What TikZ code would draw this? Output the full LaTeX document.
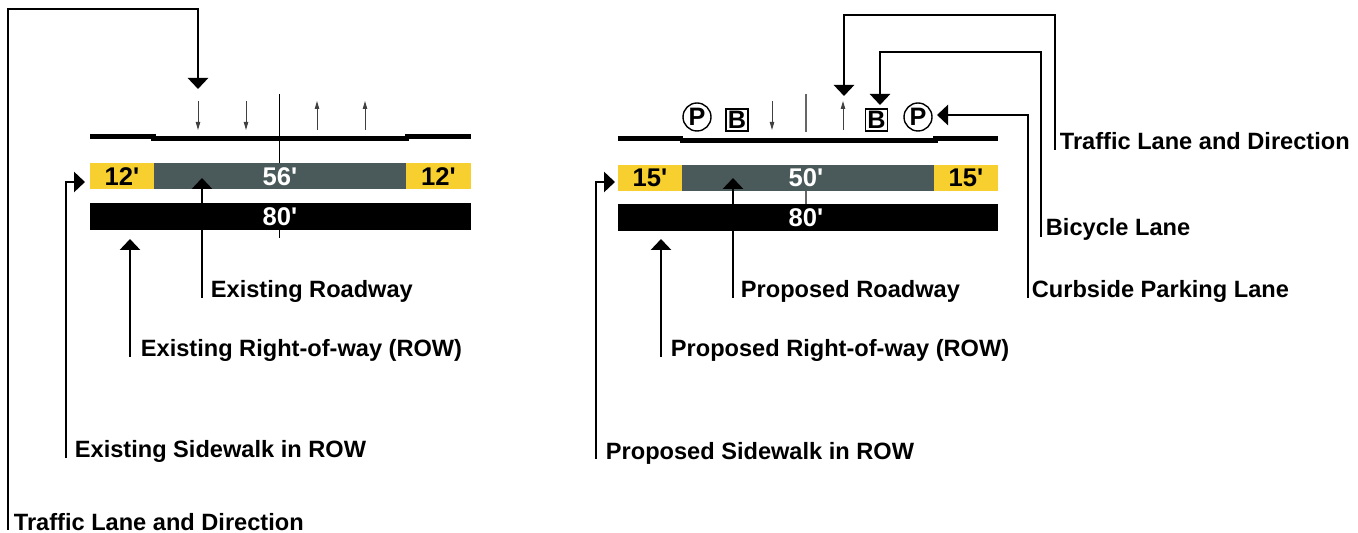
\documentclass[tikz,border=0pt]{standalone}
\usepackage{fontspec}
\setmainfont{Liberation Sans}
\usetikzlibrary{arrows.meta}
\definecolor{swyellow}{RGB}{247,208,47}
\definecolor{rdgray}{RGB}{74,89,89}
\newcommand\myq{\textquotesingle}
\begin{document}
\begin{tikzpicture}[x=0.5pt,y=-0.5pt,
  conn/.style={line width=1.45pt,line join=miter,-{Triangle[width=10pt,length=5.5pt]}},
  lanearr/.style={line width=0.5pt,black!75,-{Triangle[width=2.2pt,length=4pt]}},
  lbl/.style={anchor=base west,inner sep=0pt,font=\bfseries\fontsize{11.8}{14}\selectfont},
  num/.style={inner sep=0pt,font=\bfseries\fontsize{12.8}{14}\selectfont},
  curb/.style={fill=black},
  sw/.style={fill=swyellow},
  rd/.style={fill=rdgray},
  row/.style={fill=black},
  pcirc/.style={circle,draw,line width=0.7pt,minimum size=14pt,inner sep=0pt,font=\bfseries\fontsize{12.6}{14}\selectfont},
  bbox/.style={rectangle,draw,line width=0.6pt,minimum size=11pt,inner sep=0pt,font=\bfseries\fontsize{12.6}{14}\selectfont}]
\useasboundingbox (0,0) rectangle (1358,533);

% ===================== EXISTING =====================
% center line
\draw[line width=0.5pt] (279,94) -- (279,163);
\draw[line width=0.5pt] (279,230) -- (279,238);
% curb profile
\fill[curb] (90,133.8) rectangle (156,139.2);
\fill[curb] (151,136.3) rectangle (409,141.5);
\fill[curb] (405,133.8) rectangle (471,139.2);
% bars
\fill[sw] (90,163) rectangle (154,189);
\fill[rd] (154,163) rectangle (406,189);
\fill[sw] (406,163) rectangle (471,189);
\fill[row] (90,203) rectangle (471,230);
\node[num] (e12a) at (122,176.5) {12\myq};
\node[num,white] (e56) at (280,176.5) {56\myq};
\node[num] (e12b) at (438.5,176.5) {12\myq};
\node[num,white] (e80) at (280,217) {80\myq};
% lane arrows
\coordinate (ea1s) at (198,101); \coordinate (ea1e) at (198,130);
\coordinate (ea2s) at (246,101); \coordinate (ea2e) at (246,130);
\coordinate (ea3s) at (317,130); \coordinate (ea3e) at (317,101);
\coordinate (ea4s) at (365,130); \coordinate (ea4e) at (365,101);
\draw[lanearr] (ea1s) -- (ea1e);
\draw[lanearr] (ea2s) -- (ea2e);
\draw[lanearr] (ea3s) -- (ea3e);
\draw[lanearr] (ea4s) -- (ea4e);
% labels
\node[lbl] (elTraffic) at (13.5,530) {Traffic Lane and Direction};
\node[lbl] (elSide) at (74.5,458) {Existing Sidewalk in ROW};
\node[lbl] (elRow) at (140.5,357) {Existing Right-of-way (ROW)};
\node[lbl] (elRoad) at (210.5,298) {Existing Roadway};
% connectors
\coordinate (ecTraffic) at (8,530); \coordinate (etTraffic) at (198,89);
\coordinate (ecSide) at (66,458); \coordinate (etSide) at (85,182);
\coordinate (ecRow) at (130,357); \coordinate (etRow) at (130,239);
\coordinate (ecRoad) at (202,298); \coordinate (etRoad) at (202,178);
\draw[conn] (ecTraffic) -- (8,9) -| (etTraffic);
\draw[conn] (ecSide) |- (etSide);
\draw[conn] (ecRow) -- (etRow);
\draw[conn] (ecRoad) -- (etRoad);

% ===================== PROPOSED =====================
% center line
\draw[line width=0.6pt,black!60] (806,94) -- (806,132);
\draw[line width=0.6pt,black!60] (806,190) -- (806,204);
% curb profile
\fill[curb] (618,135.8) rectangle (683,141.2);
\fill[curb] (680,138.3) rectangle (938,143.5);
\fill[curb] (933,135.8) rectangle (998,141.2);
% bars
\fill[sw] (618,165) rectangle (682,190.7);
\fill[rd] (682,165) rectangle (934,190.7);
\fill[sw] (934,165) rectangle (998,190.7);
\fill[row] (618,204) rectangle (998,230.7);
\node[num] (p15a) at (650,178) {15\myq};
\node[num,white] (p50) at (806,178) {50\myq};
\node[num] (p15b) at (966,178) {15\myq};
\node[num,white] (p80) at (806,217.5) {80\myq};
% lane arrows
\coordinate (pa1s) at (772,101); \coordinate (pa1e) at (772,130);
\coordinate (pa2s) at (843,130); \coordinate (pa2e) at (843,101);
\draw[lanearr] (pa1s) -- (pa1e);
\draw[lanearr] (pa2s) -- (pa2e);
% parking and bicycle symbols
\node[pcirc] (pP1) at (697,117) {P};
\node[bbox] (pB1) at (737,120) {B};
\node[bbox] (pB2) at (876.5,120) {B};
\node[pcirc] (pP2) at (918,117) {P};
% labels
\node[lbl] (plTraffic) at (1059.5,150) {Traffic Lane and Direction};
\node[lbl] (plBike) at (1045.5,236) {Bicycle Lane};
\node[lbl] (plPark) at (1031.5,297.7) {Curbside Parking Lane};
\node[lbl] (plRoad) at (740.5,297.7) {Proposed Roadway};
\node[lbl] (plRow) at (670.5,357) {Proposed Right-of-way (ROW)};
\node[lbl] (plSide) at (605.5,459) {Proposed Sidewalk in ROW};
% connectors
\coordinate (pcTraffic) at (1055,150); \coordinate (ptTraffic) at (844,96);
\coordinate (pcBike) at (1041,237); \coordinate (ptBike) at (880,105);
\coordinate (pcPark) at (1028,298); \coordinate (ptPark) at (937,115);
\coordinate (pcRoad) at (733,298); \coordinate (ptRoad) at (733,178);
\coordinate (pcRow) at (661,357); \coordinate (ptRow) at (661,239);
\coordinate (pcSide) at (596,459); \coordinate (ptSide) at (615,182);
\draw[conn] (pcTraffic) -- (1055,15) -| (ptTraffic);
\draw[conn] (pcBike) -- (1041,52) -| (ptBike);
\draw[conn] (pcPark) |- (ptPark);
\draw[conn] (pcRoad) -- (ptRoad);
\draw[conn] (pcRow) -- (ptRow);
\draw[conn] (pcSide) |- (ptSide);
\end{tikzpicture}
\end{document}
